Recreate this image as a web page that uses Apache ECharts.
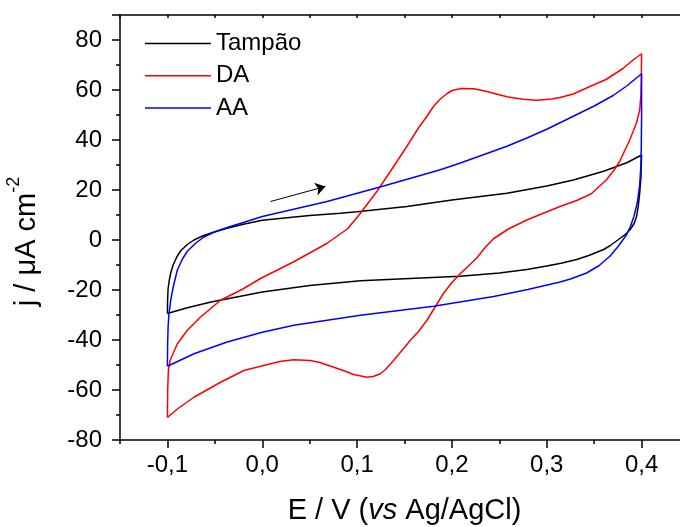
<!DOCTYPE html>
<html>
<head>
<meta charset="utf-8">
<script src="https://cdn.jsdelivr.net/npm/echarts@6/dist/echarts.min.js"></script>
<style>html,body{margin:0;padding:0;background:#fff;}#c{width:680px;height:527px;}</style>
</head>
<body>
<div id="c"></div>
<script>
// ---- Data (E in V vs Ag/AgCl, j in µA cm^-2) ----
const seriesNames = ['Tampão', 'DA', 'AA'];

const tampaoE = [-0.1, -0.0998, -0.0993, -0.098, -0.0965, -0.094, -0.09, -0.086, -0.079, -0.072, -0.063, -0.054, -0.045, -0.037, -0.02, 0, 0.05, 0.0824, 0.1, 0.1526, 0.2, 0.258, 0.3, 0.328, 0.36, 0.385, 0.4,
  0.3997, 0.3993, 0.398, 0.3965, 0.3947, 0.392, 0.388, 0.384, 0.375, 0.3666, 0.36, 0.345, 0.3316, 0.315, 0.3, 0.279, 0.25, 0.2087, 0.15, 0.1035, 0.05, 0, -0.054, -0.08, -0.1];
const tampaoJ = [-29.4, -24, -19.5, -16, -13.2, -10, -6.7, -4.3, -1.8, 0, 1.6, 2.8, 3.8, 4.7, 6.3, 7.9, 9.8, 10.7, 11.3, 13.4, 16.0, 18.7, 21.6, 24.0, 27.5, 31, 34.0,
  30, 25, 18.7, 13.5, 9.4, 6.5, 4.2, 2.6, 0, -2.3, -3.8, -6.1, -7.8, -9.3, -10.4, -11.8, -13.2, -14.5, -15.5, -16.3, -18.2, -20.8, -24.8, -27.2, -29.4];

const daE = [-0.1, -0.0997, -0.099, -0.097, -0.093, -0.0895, -0.079, -0.065, -0.044, -0.02, -0.0018, 0.0333, 0.0684, 0.09, 0.1035, 0.121, 0.1385, 0.1526, 0.165, 0.1737, 0.1807, 0.188, 0.1947, 0.2, 0.21, 0.2227, 0.235, 0.2438, 0.258, 0.275, 0.2895, 0.305, 0.314, 0.328, 0.342, 0.363, 0.38, 0.391, 0.4,
  0.3998, 0.3993, 0.398, 0.3947, 0.3877, 0.377, 0.37, 0.363, 0.347, 0.3316, 0.314, 0.295, 0.279, 0.26, 0.2438, 0.235, 0.226, 0.209, 0.2, 0.191, 0.1737, 0.165, 0.156, 0.1385, 0.13, 0.1245, 0.117, 0.1105, 0.0964, 0.0854, 0.0754, 0.0608, 0.0508, 0.0333, 0.02, 0.0087, -0.0194, -0.044, -0.072, -0.0895, -0.1];
const daJ = [-71, -60, -52, -48, -44.5, -41.5, -36.1, -30.8, -24.1, -19.5, -15.4, -8.7, -1.3, 4.5, 10.7, 19.5, 29.4, 37.5, 45, 49.5, 53.5, 56.5, 58.5, 59.8, 60.6, 60.5, 59.6, 58.7, 57.3, 56.3, 55.9, 56.4, 57.0, 58.4, 60.8, 64.3, 68.5, 72.0, 74.5,
  66, 58, 52, 46.9, 40.2, 31.5, 27.5, 24.1, 18.5, 15.8, 13.4, 10.5, 8.0, 4.5, 0.5, -3, -7.3, -13.4, -17, -21.4, -32.1, -36.5, -40.2, -48.2, -51.8, -53.5, -54.6, -54.9, -53.8, -52.2, -50.9, -49, -48.2, -47.9, -48.5, -49.5, -52.2, -56.9, -62.9, -67.6, -71];

const aaE = [-0.1, -0.0998, -0.0993, -0.0985, -0.0965, -0.094, -0.0915, -0.0895, -0.084, -0.079, -0.07, -0.0615, -0.05, -0.037, -0.02, 0, 0.0684, 0.128, 0.1877, 0.209, 0.258, 0.279, 0.3, 0.328, 0.35, 0.37, 0.385, 0.4,
  0.4, 0.3997, 0.3993, 0.398, 0.3955, 0.392, 0.388, 0.384, 0.375, 0.3666, 0.355, 0.342, 0.325, 0.314, 0.28, 0.244, 0.1807, 0.1035, 0.0333, 0, -0.037, -0.072, -0.1];
const aaJ = [-50.5, -42, -35, -30, -24, -19, -15, -12, -7.5, -4.5, -1.2, 1.2, 3.3, 5, 7, 9.4, 15.4, 21.6, 28.1, 30.8, 37.5, 40.8, 44.3, 49.5, 53.6, 57.8, 61.8, 66.5,
  50, 38, 30, 22, 15, 9.5, 5.2, 2, -2.7, -6.5, -10.3, -13.2, -15.6, -16.8, -19.8, -22.6, -26.5, -30.1, -34.1, -36.9, -40.8, -45.5, -50.5];

const arrowFrom = [0.0087, 15.4];
const arrowTo = [0.0666, 21.4];

const xMajorTicks = [-0.1, 0.0, 0.1, 0.2, 0.3, 0.4];

// ---- Build ----
const zip = (xs, ys) => xs.map((x, i) => [x, ys[i]]);
const FONT = "'Liberation Sans', Arial, sans-serif";
const colors = ['#000000', '#ff0000', '#0000ff'];
const datasets = [zip(tampaoE, tampaoJ), zip(daE, daJ), zip(aaE, aaJ)];

const chart = echarts.init(document.getElementById('c'), null, {renderer: 'canvas'});

const series = seriesNames.map((n, i) => ({
  name: n,
  type: 'line',
  data: datasets[i],
  symbol: 'none',
  smooth: false,
  lineStyle: {color: colors[i], width: 1.5},
  itemStyle: {color: colors[i]},
  xAxisIndex: 0, yAxisIndex: 0,
  animation: false
}));
series.push({
  type: 'line', data: [], xAxisIndex: 0, yAxisIndex: 0, animation: false,
  markLine: {
    silent: true, animation: false,
    symbol: ['none', 'arrow'], symbolSize: 10,
    lineStyle: {color: '#000', width: 1, type: 'solid'},
    itemStyle: {color: '#000'},
    label: {show: false},
    data: [[{coord: arrowFrom}, {coord: arrowTo}]]
  }
});

const fmt = v => {
  const r = Math.round(v * 100) / 100;
  if (Math.abs(Math.round(r * 10) - r * 10) > 1e-6) return '';
  return r.toFixed(1).replace('.', ',');
};

chart.setOption({
  animation: false,
  backgroundColor: '#fff',
  textStyle: {fontFamily: FONT},
  grid: {left: 120, top: 15, height: 425, width: 569, containLabel: false, outerBoundsMode: 'none'},
  legend: {
    data: seriesNames.map((n, i) => ({name: n, icon: 'rect', itemStyle: {color: colors[i]}})),
    orient: 'vertical', left: 145, top: 31.5, padding: 0,
    itemWidth: 66, itemHeight: 1.5, itemGap: 8.2, itemTextGap: 9,
    textStyle: {fontSize: 24, color: '#000', fontFamily: FONT},
    selectedMode: false
  },
  xAxis: [
    {
      type: 'value', min: -0.15, max: 0.45, interval: 0.05, position: 'bottom',
      axisLine: {show: true, onZero: false, lineStyle: {color: '#000', width: 1.5}},
      axisTick: {show: true, inside: false, length: 4, lineStyle: {color: '#000', width: 1.5}},
      axisLabel: {show: true, formatter: fmt, fontSize: 24, color: '#000', margin: 13, fontFamily: FONT},
      splitLine: {show: false},
      name: '{n|E / V (}{i|vs}{n| Ag/AgCl)}', nameLocation: 'middle', nameGap: 56,
      nameTextStyle: {
        rich: {
          n: {fontSize: 29, color: '#000', fontFamily: FONT},
          i: {fontSize: 29, color: '#000', fontStyle: 'italic', fontFamily: FONT}
        }
      }
    },
    {
      type: 'value', min: -0.15, max: 0.45, interval: 0.05, position: 'bottom',
      axisLine: {show: false, onZero: false},
      axisTick: {show: true, inside: false, length: 8, customValues: xMajorTicks, lineStyle: {color: '#000', width: 1.5}},
      axisLabel: {show: false},
      splitLine: {show: false}
    },
    {
      type: 'value', min: -0.15, max: 0.45, interval: 0.05, position: 'top',
      axisLine: {show: true, onZero: false, lineStyle: {color: '#000', width: 1.5}},
      axisTick: {show: true, inside: true, length: 3, lineStyle: {color: '#000', width: 1.5}},
      axisLabel: {show: false},
      splitLine: {show: false}
    }
  ],
  yAxis: [
    {
      type: 'value', min: -80, max: 90, interval: 20,
      axisLine: {show: true, onZero: false, lineStyle: {color: '#000', width: 1.5}},
      axisTick: {show: true, inside: false, length: 8, lineStyle: {color: '#000', width: 1.5}},
      minorTick: {show: true, splitNumber: 2, length: 4, lineStyle: {color: '#000', width: 1.5}},
      axisLabel: {
        show: true, fontSize: 24, color: '#000', margin: 18, fontFamily: FONT,
        showMaxLabel: false,
        formatter: v => (v > 85 ? '' : String(v))
      },
      splitLine: {show: false},
      name: '{a|j / μA cm}{b|-2}', nameLocation: 'middle', nameGap: 79, nameRotate: 90,
      nameTextStyle: {
        padding: [0, 28, 0, 0],
        rich: {
          a: {fontSize: 29, color: '#000', fontFamily: FONT, lineHeight: 36, verticalAlign: 'bottom'},
          b: {fontSize: 18, color: '#000', fontFamily: FONT, lineHeight: 36, verticalAlign: 'top'}
        }
      }
    }
  ],
  series: series
});
</script>
</body>
</html>
